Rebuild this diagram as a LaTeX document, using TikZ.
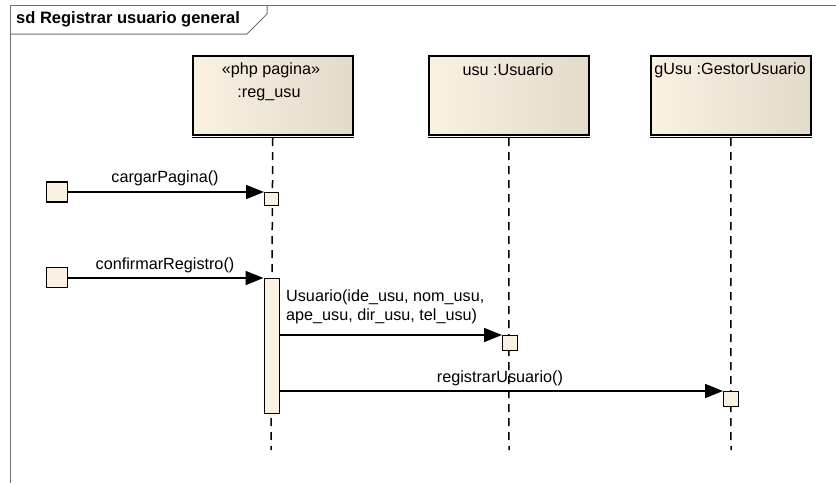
\documentclass[tikz,border=0pt]{standalone}
\usepackage{fontspec}
\setmainfont{Liberation Sans}
\usetikzlibrary{arrows.meta}
\definecolor{cream}{HTML}{FBF1E3}
\definecolor{beige}{HTML}{E4DACA}
\definecolor{framegray}{HTML}{707070}
\begin{document}
\begin{tikzpicture}[x=1pt,y=-1pt,
  head/.style={draw, line width=1.5pt, left color=cream, right color=beige, minimum width=160pt, minimum height=79pt, inner sep=0pt, anchor=north west},
  gate/.style={draw, line width=1.5pt, fill=cream, minimum width=21pt, minimum height=20pt, inner sep=0pt},
  act/.style={draw, line width=1.3pt, fill=cream, inner sep=0pt, anchor=north west},
  life/.style={dash pattern=on 8pt off 6pt, line width=1.5pt},
  msg/.style={line width=1.6pt, -{Triangle[length=18pt,width=14pt]}},
  lbl/.style={font=\fontsize{16.2}{19}\selectfont, inner sep=0pt}
]
\useasboundingbox (0,0) rectangle (836,483);
% frame
\draw[framegray, line width=1pt] (836,5) -- (10,5) -- (10,483);
\draw[framegray, line width=1pt] (10,34) -- (247,34) -- (267,14) -- (267,5);
\node[anchor=west, font=\bfseries\fontsize{16.5}{19}\selectfont, inner sep=0pt] (title) at (16,19) {sd Registrar usuario general};
% heads
\node[head] (h1) at (192,55) {};
\node[head] (h2) at (428,55) {};
\node[head] (h3) at (650,55) {};
\draw[line width=1.2pt] ([yshift=-1.8pt]h1.south west) -- ([yshift=-1.8pt]h1.south east);
\draw[line width=1.2pt] ([yshift=-1.8pt]h2.south west) -- ([yshift=-1.8pt]h2.south east);
\draw[line width=1.2pt] ([yshift=-1.8pt]h3.south west) -- ([yshift=-1.8pt]h3.south east);
\node[lbl] (h1a) at (271,70) {«php pagina»};
\node[lbl] (h1b) at (269,95) {:reg\_usu};
\node[lbl] (h2a) at (508,70) {usu :Usuario};
\node[lbl] (h3a) at (730,70) {gUsu :GestorUsuario};
% lifelines
\coordinate (e1) at (271,450);
\coordinate (e2) at (509,450);
\coordinate (e3) at (731,450);
\draw[life] ([yshift=-2.5pt]h1.south) -- (e1);
\draw[life] ([yshift=-2.5pt]h2.south) -- (e2);
\draw[life] ([yshift=-2.5pt]h3.south) -- (e3);
% activations
\node[act, minimum width=14pt, minimum height=13pt] (a1) at (264,192) {};
\node[act, minimum width=15pt, minimum height=135pt] (a2) at (263.5,278) {};
\node[act, minimum width=15pt, minimum height=15pt] (a3) at (502,335) {};
\node[act, minimum width=15pt, minimum height=15pt] (a4) at (723,391) {};
% gates
\node[gate] (g1) at (57,192) {};
\node[gate] (g2) at (57,277.5) {};
% messages
\draw[msg] (g1.east |- a1.north) -- (a1.north west);
\draw[msg] (g2.east |- a2.north) -- (a2.north west);
\draw[msg] (a3.north west -| a2.east) -- (a3.north west);
\draw[msg] (a4.north west -| a2.east) -- (a4.north west);
% labels
\node[lbl] (m1) at (165,178) {cargarPagina()};
\node[lbl] (m2) at (165,265) {confirmarRegistro()};
\node[lbl, anchor=west] (m3a) at (286,297) {Usuario(ide\_usu, nom\_usu,};
\node[lbl, anchor=west] (m3b) at (286,316) {ape\_usu, dir\_usu, tel\_usu)};
\node[lbl] (m4) at (500,378) {registrarUsuario()};
\end{tikzpicture}
\end{document}
